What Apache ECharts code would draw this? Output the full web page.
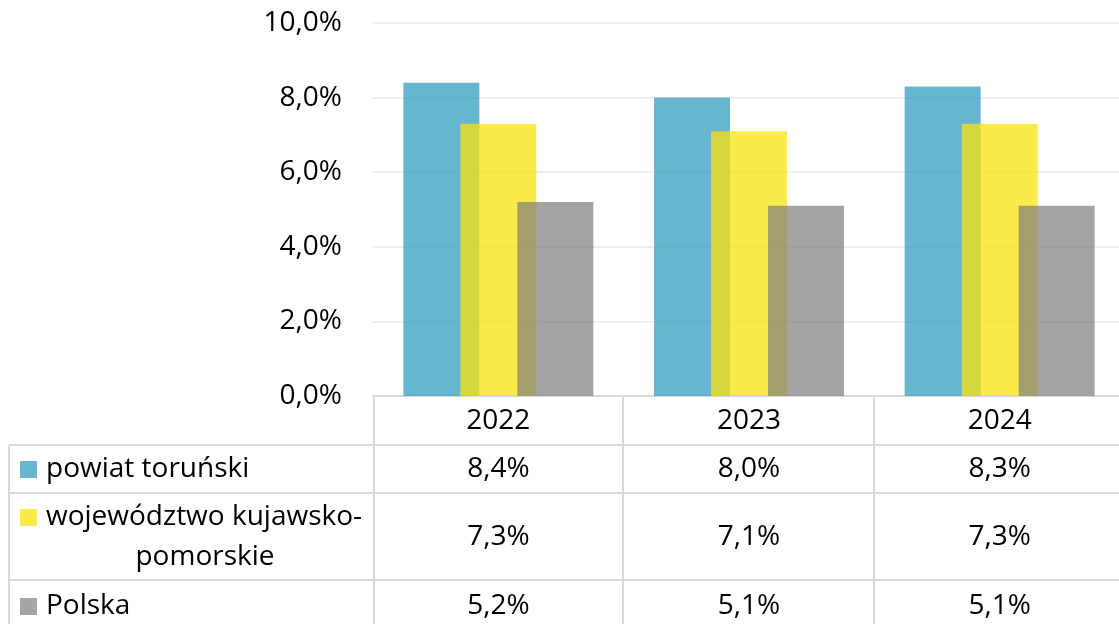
<!DOCTYPE html>
<html>
<head>
<meta charset="utf-8">
<script src="https://cdn.jsdelivr.net/npm/echarts@6/dist/echarts.min.js"></script>
<style>
  html, body { margin: 0; padding: 0; background: #fff; overflow: hidden; }
  #chart { width: 1125px; height: 624px; }
</style>
</head>
<body>
<div id="chart"></div>
<script>
// dane
var years = ['2022', '2023', '2024'];
var powiat = [8.4, 8.0, 8.3];
var wojewodztwo = [7.3, 7.1, 7.3];
var polska = [5.2, 5.1, 5.1];
var seriesNames = ['powiat toruński', 'województwo kujawsko-pomorskie', 'Polska'];
var colors = ['rgba(51,156,194,0.75)', 'rgba(250,227,15,0.75)', 'rgba(126,126,126,0.7)'];
var keyColors = ['#66b5d1', '#fbea4b', '#a5a5a5'];

var FONT = '"Open Sans"';
var FS = 28;
var lineColor = '#d9d9d9';

function pct(v) {
  return v.toFixed(1).replace('.', ',') + '%';
}

var chart = echarts.init(document.getElementById('chart'));

var allData = [powiat, wojewodztwo, polska];
var series_data = [];
for (var i = 0; i < allData.length; i++) {
  series_data.push({
    name: seriesNames[i],
    type: 'bar',
    data: allData[i],
    barWidth: 76,
    barGap: '-25%',
    itemStyle: { color: colors[i] },
    animation: false
  });
}

chart.setOption({
  animation: false,
  grid: { left: 373, right: 0, top: 23, bottom: 228 },
  xAxis: {
    type: 'category',
    data: years,
    axisLine: { show: true, lineStyle: { color: lineColor, width: 2 } },
    axisTick: { show: false },
    axisLabel: { show: false }
  },
  yAxis: {
    type: 'value',
    min: 0,
    max: 10,
    interval: 2,
    axisLine: { show: false },
    axisTick: { show: false },
    splitLine: { lineStyle: { color: '#efefef', width: 2 } },
    axisLabel: {
      margin: 31,
      formatter: function (v) { return pct(v); },
      color: '#000',
      fontFamily: 'Open Sans',
      fontSize: FS
    }
  },
  series: series_data
});

// tabela danych pod wykresem
var rows = [
  { top: 445, textY: 469 },
  { top: 493, textY: 537 },
  { top: 580, textY: 606 }
];
var headerY = 421;
var colEdges = [374, 623, 874];
var g = [];

function line(x1, y1, x2, y2) {
  g.push({ type: 'line', shape: { x1: x1, y1: y1, x2: x2, y2: y2 },
    style: { stroke: lineColor, lineWidth: 2 }, silent: true });
}
function txt(x, y, s, align) {
  g.push({ type: 'text', x: x, y: y,
    style: { text: s, fill: '#000', font: FS + 'px ' + FONT, align: align || 'center', verticalAlign: 'middle' },
    silent: true });
}

// linie poziome
for (var r = 0; r < rows.length; r++) line(9, rows[r].top, 1125, rows[r].top);
// linie pionowe
line(9, 445, 9, 640);
for (var c = 0; c < colEdges.length; c++) line(colEdges[c], 396, colEdges[c], 640);

// naglowek - lata i wartosci
for (var k = 0; k < years.length; k++) {
  var cx = chart.convertToPixel({ xAxisIndex: 0 }, years[k]);
  txt(cx, headerY, years[k]);
  for (var s = 0; s < allData.length; s++) {
    txt(cx, rows[s].textY, pct(allData[s][k]));
  }
}

// legenda w tabeli
var keyY = [469, 517, 606];
for (var s2 = 0; s2 < seriesNames.length; s2++) {
  g.push({ type: 'rect', shape: { x: 20, y: keyY[s2] - 8, width: 17, height: 17 },
    style: { fill: keyColors[s2] }, silent: true });
}
txt(46, 469, seriesNames[0], 'left');
txt(46, 517, 'województwo kujawsko-', 'left');
txt(205, 557, 'pomorskie', 'center');
txt(46, 606, seriesNames[2], 'left');

chart.setOption({ graphic: g });
</script>
</body>
</html>
